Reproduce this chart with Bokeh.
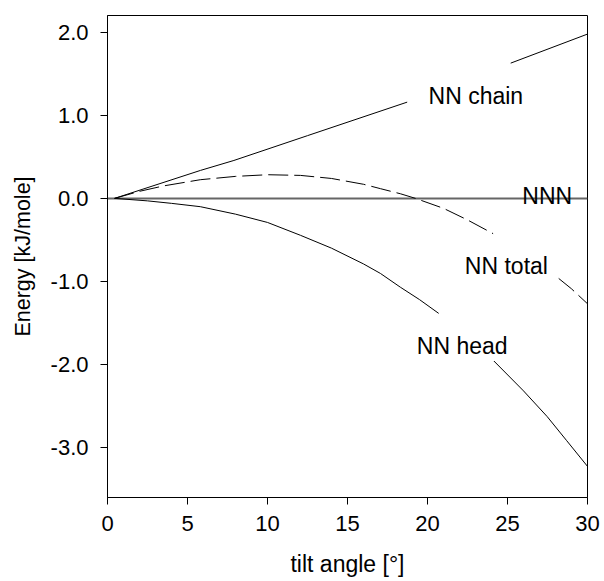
from bokeh.plotting import figure
from bokeh.models import FixedTicker, PrintfTickFormatter, Range1d
from bokeh.core.properties import value
from bokeh.embed import file_html
from bokeh.resources import INLINE

nan = float("nan")

# NN chain (gap where the label sits)
chain_x = [0.44, 5.81, 7.9, 12.5, 18.73, nan, 25.2, 30.0]
chain_y = [0.0, 0.337, 0.457, 0.756, 1.16, nan, 1.63, 1.98]

# NNN
nnn_x = [0.0, 30.0]
nnn_y = [0.0, 0.0]

# NN total (dashed)
total_x = [0.44, 2.0, 3.5, 5.8, 8.0, 10.0, 12.06, 14.0, 16.0, 17.06, 18.3, 19.25,
           21.0, 22.5, 24.1, nan, 28.2, 29.0, 30.0]
total_y = [0.0, 0.085, 0.15, 0.225, 0.265, 0.285, 0.277, 0.24, 0.17, 0.117, 0.056, 0.0,
           -0.12, -0.26, -0.425, nan, -0.965, -1.09, -1.27]

# NN head
head_x = [0.44, 2.5, 4.0, 5.8, 8.0, 10.0, 12.06, 14.0, 16.0, 17.06, 18.3, 19.5, 20.7,
          nan, 24.15, 26.0, 27.48, 28.7, 30.0]
head_y = [0.0, -0.03, -0.06, -0.10, -0.19, -0.29, -0.445, -0.60, -0.79, -0.905, -1.07,
          -1.22, -1.386, nan, -1.96, -2.32, -2.63, -2.92, -3.23]

label_text = ["NN chain", "NNN", "NN total", "NN head"]
label_x = [23.02, 27.48, 24.93, 22.17]
label_y = [1.231, 0.024, -0.817, -1.779]

x_ticks = [0, 5, 10, 15, 20, 25, 30]
y_ticks = [-3, -2, -1, 0, 1, 2]

FONT = "Liberation Sans"
FS = "23px"
TICK_FS = "22px"

p = figure(width=604, height=581, output_backend="svg", toolbar_location=None,
           x_range=Range1d(0, 30), y_range=Range1d(-3.605, 2.204),
           min_border_left=107, min_border_right=17, min_border_top=15, min_border_bottom=84)

p.background_fill_color = "white"
p.border_fill_color = "white"
p.outline_line_color = "black"
p.outline_line_width = 1
p.xgrid.visible = False
p.ygrid.visible = False

p.line(nnn_x, nnn_y, line_color="#666666", line_width=2)
p.line(chain_x, chain_y, line_color="black", line_width=1)
p.line(total_x, total_y, line_color="black", line_width=1, line_dash="20 6")
p.line(head_x, head_y, line_color="black", line_width=1)

p.text(x=label_x, y=label_y, text=label_text, text_align="center",
       text_baseline="alphabetic", text_font=value(FONT), text_font_size=FS,
       text_color="black")

for ax in (p.xaxis[0], p.yaxis[0]):
    ax.major_tick_in = 0
    ax.major_tick_out = 7
    ax.minor_tick_in = 0
    ax.minor_tick_out = 0
    ax.axis_line_color = "black"
    ax.major_tick_line_color = "black"
    ax.major_label_text_font = FONT
    ax.major_label_text_font_size = TICK_FS
    ax.major_label_text_color = "black"
    ax.axis_label_text_font = FONT
    ax.axis_label_text_font_size = FS
    ax.axis_label_text_font_style = "normal"
    ax.axis_label_text_color = "black"

p.yaxis.axis_label_text_font_size = "21.5px"
p.xaxis.ticker = FixedTicker(ticks=x_ticks)
p.yaxis.ticker = FixedTicker(ticks=y_ticks)
p.yaxis.formatter = PrintfTickFormatter(format="%.1f")
p.xaxis.axis_label = "tilt angle [°]"
p.yaxis.axis_label = "Energy [kJ/mole]"
p.xaxis.major_label_standoff = 11
p.yaxis.major_label_standoff = 12
p.xaxis.axis_label_standoff = 17
p.yaxis.axis_label_standoff = 13

open("out.html", "w").write(file_html(p, INLINE))
